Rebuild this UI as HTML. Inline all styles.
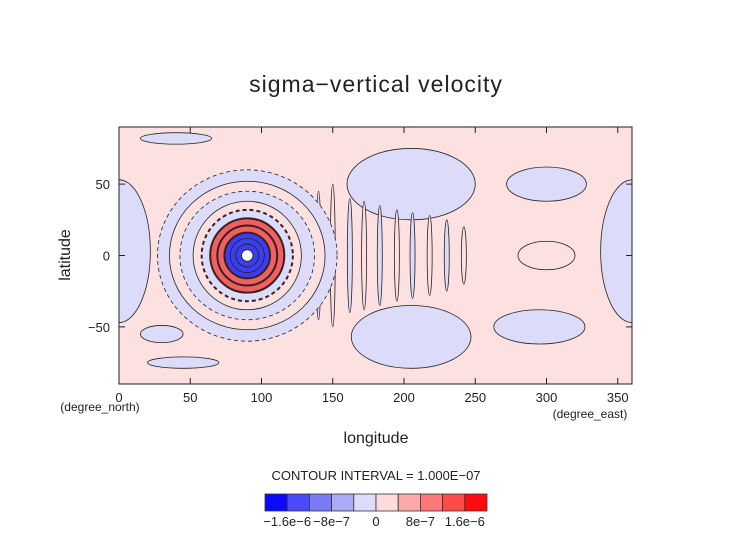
<!DOCTYPE html>
<html><head><meta charset="utf-8"><style>
body{margin:0;background:#fff;}
svg text{font-family:"Liberation Sans",sans-serif;fill:#222;}
</style></head><body>
<svg id="chart" width="752" height="532" xmlns="http://www.w3.org/2000/svg">
<defs><clipPath id="plotclip"><rect x="119" y="127" width="513" height="257"/></clipPath></defs>
<text x="376" y="92" font-size="23" text-anchor="middle" letter-spacing="1">sigma−vertical velocity</text>
<g id="plot" clip-path="url(#plotclip)">
<rect x="119" y="127" width="513" height="257" fill="#fde0e0"/>
</g>
<rect x="119" y="127" width="513" height="257" fill="none" stroke="#222" stroke-width="1"/>
<g id="axes"></g>
<text x="70" y="255" font-size="16" text-anchor="middle" transform="rotate(-90 70 255)">latitude</text>
<text x="100" y="411" font-size="12" text-anchor="middle">(degree_north)</text>
<text x="590" y="418" font-size="12" text-anchor="middle">(degree_east)</text>
<text x="376" y="443" font-size="16" text-anchor="middle">longitude</text>
<text x="376" y="480" font-size="13" text-anchor="middle">CONTOUR INTERVAL = 1.000E−07</text>
<g id="colorbar"></g>
</svg>
<script>
const xTicks=[0,50,100,150,200,250,300,350];
const yTicks=[-50,0,50];
// blobs: lon, lat, half-width lon, half-height lat, sign (+1 pink/-1 blue)
const blobLon=[0,360,205,205,300,295,40,45,30,300];
const blobLat=[3,3,50,-57,50,-50,82,-75,-55,0];
const blobRx=[22,22,45,42,28,32,25,25,15,20];
const blobRy=[50,50,25,22,12,12,4,4,6,10];
const blobSign=[-1,-1,-1,-1,-1,-1,-1,-1,-1,1];
// concentric rings around vortex (degrees), sign per ring
const ringR=[60,52,45,38,32,26,21,16,12,8,4];
const ringSign=[-1,1,-1,1,-1,1,1,-1,-1,-1,0];
// eastward arcs (stripes): lon, lat half-extent
const arcLon=[140,150,162,172,183,195,206,218,230,242];
const arcLat=[45,50,40,38,35,32,30,28,25,20];
const cbLabels=["−1.6e−6","−8e−7","0","8e−7","1.6e−6"];
const cbColors=["#0a0aff","#4a4aff","#7a7af8","#aaaaf6","#dcdcfa","#ffdcdc","#ffaaaa","#ff7878","#ff4a4a","#ff0c0c"];
const X=l=>119+l*513/360, Y=t=>255.5-t*257/180;
const NS="http://www.w3.org/2000/svg";
const plot=document.getElementById('plot');
function mk(tag,attrs,parent){const e=document.createElementNS(NS,tag);for(const k in attrs)e.setAttribute(k,attrs[k]);parent.appendChild(e);return e;}
const fillOf=s=>s<0?"#dcdcfa":s>0?"#fde0e0":"#ffffff";
for(let i=0;i<blobLon.length;i++){
 const e=mk('ellipse',{cx:X(blobLon[i]),cy:Y(blobLat[i]),rx:blobRx[i]*513/360,ry:blobRy[i]*257/180,fill:fillOf(blobSign[i]),stroke:"#222","stroke-width":0.8},plot);
 
 
}
for(let i=0;i<arcLon.length;i++){
 const e=mk('ellipse',{cx:X(arcLon[i]),cy:Y(0),rx:2.5,ry:arcLat[i]*257/180,fill:i%2?"#fde0e0":"#dcdcfa",stroke:"#222","stroke-width":0.8},plot);
 
 
}
for(let i=0;i<ringR.length;i++){
 let f=fillOf(ringSign[i]);
 if(i>=5&&i<=6)f="#f06060"; if(i>=7&&i<=9)f="#3c3cf0";
 const e=mk('ellipse',{cx:X(90),cy:Y(0),rx:ringR[i]*513/360*(i<3?1.05:1),ry:ringR[i]*257/180,fill:f,stroke:i>=4&&i<=7?"#3a2020":"#222","stroke-width":i>=4&&i<=7?2:0.8,"stroke-dasharray":ringSign[i]<0&&i<5?"4 3":"none"},plot);
 
 
}
const axes=document.getElementById('axes');
xTicks.forEach(v=>{
 const t=mk('line',{x1:X(v),x2:X(v),y1:384,y2:378,stroke:"#222"},axes);
 
 
 mk('line',{x1:X(v),x2:X(v),y1:127,y2:133,stroke:"#222"},axes);
 const l=mk('text',{x:X(v),y:402,"font-size":13,"text-anchor":"middle"},axes);l.textContent=v;
 
 
});
yTicks.forEach(v=>{
 const t=mk('line',{x1:119,x2:125,y1:Y(v),y2:Y(v),stroke:"#222"},axes);
 
 
 mk('line',{x1:632,x2:626,y1:Y(v),y2:Y(v),stroke:"#222"},axes);
 const l=mk('text',{x:110,y:Y(v)+5,"font-size":13,"text-anchor":"end"},axes);l.textContent=v===-50?"−50":v;
 
 
});
const cb=document.getElementById('colorbar');const w=22.2;
cbColors.forEach((c,i)=>{
 const r=mk('rect',{x:265+i*w,y:494,width:w,height:17,fill:c,stroke:"#333","stroke-width":0.8},cb);
 
 
});
cbLabels.forEach((s,i)=>{
 const l=mk('text',{x:265+w*(1+2*i),y:526,"font-size":13,"text-anchor":"middle"},cb);l.textContent=s;
 
 
});
</script>
</body></html>
